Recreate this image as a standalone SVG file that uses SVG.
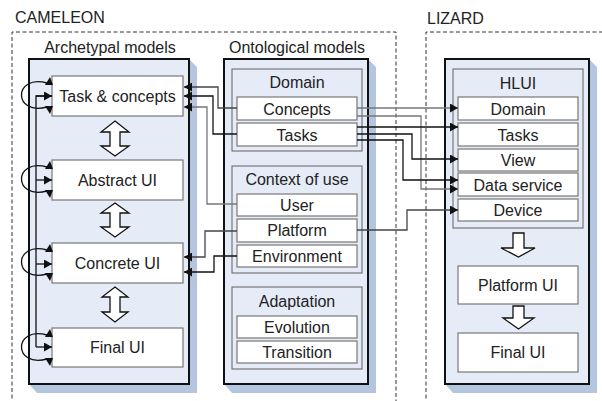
<svg xmlns="http://www.w3.org/2000/svg" width="602" height="401" viewBox="0 0 602 401">
  <style>
    text { font-family: "Liberation Sans", Arial, sans-serif; font-size: 16px; fill: #222; }
    .c { text-anchor: middle; }
    .frame { fill: none; stroke: #333; stroke-width: 1; stroke-dasharray: 4 2.5; }
    .panel { fill: #e5ecf7; stroke: #111; stroke-width: 2; }
    .shade { fill: #b4c6df; }
    .group { fill: #e5ecf7; stroke: #777; stroke-width: 1.2; }
    .box { fill: #fff; stroke: #777; stroke-width: 1.2; }
    .hollow { fill: #fff; stroke: #111; stroke-width: 1.3; stroke-linejoin: miter; }
    .wire { fill: none; stroke: #111; stroke-width: 1.3; }
    .grey { stroke: #777; }
    .mid { stroke: #444; }
    .tri { fill: #111; }
  </style>
  <defs>
    <marker id="ah" markerUnits="userSpaceOnUse" markerWidth="8" markerHeight="9" refX="8" refY="4.5" orient="auto">
      <path d="M0,0 L8,4.5 L0,9 z" fill="#111"/>
    </marker>
  </defs>

  <rect width="602" height="401" fill="#fff"/>

  <!-- outer frameworks -->
  <text x="15" y="23">CAMELEON</text>
  <path class="frame" d="M12,405 V32 H396 V405"/>
  <text x="427" y="24">LIZARD</text>
  <path class="frame" d="M426,405 V32 H606"/>

  <!-- Archetypal models panel -->
  <g id="archetypal">
    <text class="c" x="110" y="53">Archetypal models</text>
    <polygon class="shade" points="189,59 197,67 197,393 37,393 29,384"/>
    <rect class="panel" x="29" y="59" width="160" height="325"/>
  </g>
  <g id="task-concepts">
    <rect class="box" x="52" y="76" width="131" height="40"/>
    <text class="c" x="117.5" y="102">Task &amp; concepts</text>
  </g>
  <g id="abstract-ui">
    <rect class="box" x="52" y="160" width="131" height="40"/>
    <text class="c" x="117.5" y="186">Abstract UI</text>
  </g>
  <g id="concrete-ui">
    <rect class="box" x="52" y="243" width="131" height="40"/>
    <text class="c" x="117.5" y="269">Concrete UI</text>
  </g>
  <g id="final-ui">
    <rect class="box" x="52" y="328" width="131" height="39"/>
    <text class="c" x="117.5" y="353">Final UI</text>
  </g>

  <!-- Ontological models panel -->
  <g id="ontological">
    <text class="c" x="297" y="53">Ontological models</text>
    <polygon class="shade" points="368,59 376,67 376,393 232,393 224,384"/>
    <rect class="panel" x="224" y="59" width="144" height="325"/>
  </g>
  <g id="domain">
    <rect class="group" x="232" y="69" width="130" height="82"/>
    <text class="c" x="297" y="88">Domain</text>
  </g>
  <g id="concepts">
    <rect class="box" x="237" y="97" width="120" height="23"/>
    <text class="c" x="297" y="115">Concepts</text>
  </g>
  <g id="tasks">
    <rect class="box" x="237" y="123" width="120" height="23"/>
    <text class="c" x="297" y="141">Tasks</text>
  </g>
  <g id="context-of-use">
    <rect class="group" x="232" y="166" width="130" height="107"/>
    <text class="c" x="297" y="185">Context of use</text>
  </g>
  <g id="user">
    <rect class="box" x="237" y="194" width="120" height="22"/>
    <text class="c" x="297" y="211">User</text>
  </g>
  <g id="platform">
    <rect class="box" x="237" y="219" width="120" height="23"/>
    <text class="c" x="297" y="236">Platform</text>
  </g>
  <g id="environment">
    <rect class="box" x="237" y="245" width="120" height="22"/>
    <text class="c" x="297" y="262">Environment</text>
  </g>
  <g id="adaptation">
    <rect class="group" x="232" y="287" width="130" height="82"/>
    <text class="c" x="297" y="307">Adaptation</text>
  </g>
  <g id="evolution">
    <rect class="box" x="237" y="316" width="120" height="22"/>
    <text class="c" x="297" y="333">Evolution</text>
  </g>
  <g id="transition">
    <rect class="box" x="237" y="341" width="120" height="22"/>
    <text class="c" x="297" y="358">Transition</text>
  </g>

  <!-- LIZARD panel -->
  <g id="lizard-panel">
    <polygon class="shade" points="589,59 597,67 597,393 453,393 445,384"/>
    <rect class="panel" x="445" y="59" width="144" height="325"/>
  </g>
  <g id="hlui">
    <rect class="group" x="453" y="69" width="130" height="159"/>
    <text class="c" x="518" y="89">HLUI</text>
  </g>
  <g id="hlui-domain">
    <rect class="box" x="458" y="97" width="120" height="23"/>
    <text class="c" x="518" y="115">Domain</text>
  </g>
  <g id="hlui-tasks">
    <rect class="box" x="458" y="123" width="120" height="23"/>
    <text class="c" x="518" y="141">Tasks</text>
  </g>
  <g id="hlui-view">
    <rect class="box" x="458" y="149" width="120" height="22"/>
    <text class="c" x="518" y="166">View</text>
  </g>
  <g id="hlui-data-service">
    <rect class="box" x="458" y="173" width="120" height="23"/>
    <text class="c" x="518" y="191">Data service</text>
  </g>
  <g id="hlui-device">
    <rect class="box" x="458" y="199" width="120" height="22"/>
    <text class="c" x="518" y="216">Device</text>
  </g>
  <g id="platform-ui">
    <rect class="box" x="458" y="266" width="120" height="38"/>
    <text class="c" x="518" y="291">Platform UI</text>
  </g>
  <g id="lizard-final-ui">
    <rect class="box" x="458" y="333" width="120" height="39"/>
    <text class="c" x="518" y="358">Final UI</text>
  </g>

  <!-- connectors -->
  <g id="connectors">
    <!-- refinement double arrows -->
    <path class="hollow" d="M115,121 L129,132 L120,132 L120,146 L129,146 L115,156 L101,146 L110,146 L110,132 L101,132 Z"/>
    <path class="hollow" d="M115,203 L129,213 L120,213 L120,227 L129,227 L115,237 L101,227 L110,227 L110,213 L101,213 Z"/>
    <path class="hollow" stroke-width="2.4" d="M115,287 L128,297 L120,297 L120,312 L128,312 L115,322 L102,312 L110,312 L110,297 L102,297 Z"/>

    <!-- self loops -->
    <path class="wire" d="M47,83 C13,74 13,116 47,107"/>
    <polygon class="tri" points="45,85 53,85 50,77"/>
    <polygon class="tri" points="45,106 53,106 50,114"/>
    <path class="wire" d="M47,167 C13,158 13,200 47,191"/>
    <polygon class="tri" points="45,169 53,169 50,161"/>
    <polygon class="tri" points="45,190 53,190 50,198"/>
    <path class="wire" d="M47,250 C13,241 13,283 47,274"/>
    <polygon class="tri" points="45,252 53,252 50,244"/>
    <polygon class="tri" points="45,273 53,273 50,281"/>
    <path class="wire" d="M47,335 C13,326 13,368 47,359"/>
    <polygon class="tri" points="45,337 53,337 50,329"/>
    <polygon class="tri" points="45,358 53,358 50,366"/>

    <!-- trunk feeding every level -->
    <path class="wire" d="M52,96 H36 V347"/>
    <path class="wire" marker-end="url(#ah)" d="M36,96 H52"/>
    <path class="wire" marker-end="url(#ah)" d="M36,180 H52"/>
    <path class="wire" marker-end="url(#ah)" d="M36,264 H52"/>
    <path class="wire" marker-end="url(#ah)" d="M36,347 H52"/>

    <!-- ontological models to archetypal models -->
    <path class="wire mid" marker-end="url(#ah)" d="M237,108 H218 V87 H184"/>
    <path class="wire" marker-end="url(#ah)" d="M237,134 H213 V96 H184"/>
    <path class="wire grey" marker-end="url(#ah)" d="M237,204 H207 V107 H184"/>
    <path class="wire mid" marker-end="url(#ah)" d="M237,231 H205 V257 H184"/>
    <path class="wire" marker-end="url(#ah)" d="M237,256 H214 V272 H184"/>

    <!-- ontological models to HLUI -->
    <path class="wire grey" marker-end="url(#ah)" d="M357,108 H458"/>
    <path class="wire grey" marker-end="url(#ah)" d="M357,116 H421 V189 H458"/>
    <path class="wire" marker-end="url(#ah)" d="M357,127 H458"/>
    <path class="wire" marker-end="url(#ah)" d="M357,134 H412 V159 H458"/>
    <path class="wire" marker-end="url(#ah)" d="M357,140 H403 V180 H458"/>
    <path class="wire mid" marker-end="url(#ah)" d="M357,230 H407 V210 H458"/>

    <!-- HLUI derivation arrows -->
    <path class="hollow" d="M513,233 H524 V248 H535 L518.5,257 L501,248 H513 Z"/>
    <path class="hollow" d="M513,306 H524 V318 H534 L518.5,329 L503,318 H513 Z"/>
  </g>
</svg>
